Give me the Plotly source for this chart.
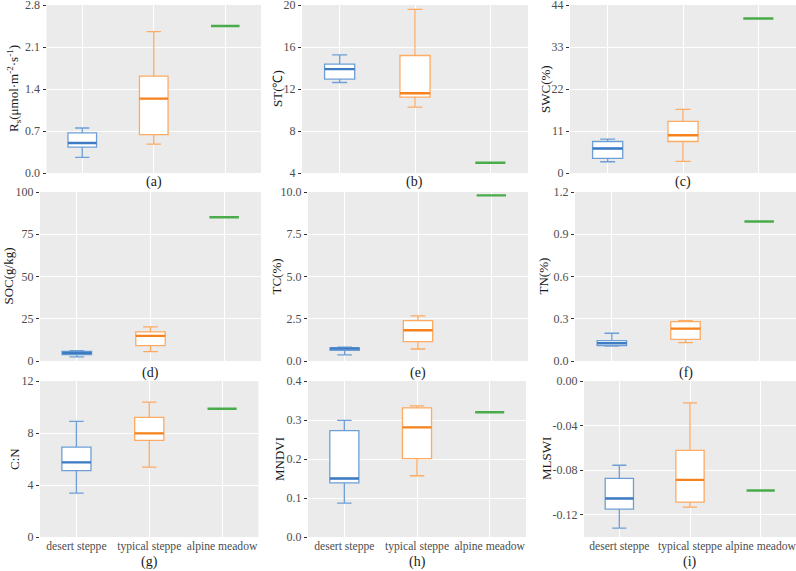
import plotly.graph_objects as go

# ---------------- data ----------------
categories = ["desert steppe", "typical steppe", "alpine meadow"]
panel_labels = ["(a)", "(b)", "(c)", "(d)", "(e)", "(f)", "(g)", "(h)", "(i)"]
y_titles = ["R<sub>s</sub>(μmol·m<sup>-2</sup>·s<sup>-1</sup>)", "ST(℃)", "SWC(%)",
            "SOC(g/kg)", "TC(%)", "TN(%)", "C:N", "MNDVI", "MLSWI"]

# box stats: [lower whisker, q1, median, q3, upper whisker]; alpine meadow single value
rs_desert = [0.26, 0.43, 0.50, 0.67, 0.75]
rs_typical = [0.48, 0.64, 1.24, 1.615, 2.355]
rs_alpine = 2.45

st_desert = [12.62, 12.94, 13.89, 14.36, 15.25]
st_typical = [10.27, 11.22, 11.6, 15.19, 19.59]
st_alpine = 4.98

swc_desert = [2.95, 3.82, 6.42, 8.25, 8.85]
swc_typical = [3.04, 8.25, 9.9, 13.54, 16.67]
swc_alpine = 40.45

soc_desert = [2.4, 3.76, 4.75, 5.74, 6.1]
soc_typical = [5.5, 9.1, 14.85, 17.2, 20.2]
soc_alpine = 85.1

tc_desert = [0.36, 0.63, 0.73, 0.79, 0.82]
tc_typical = [0.71, 1.15, 1.82, 2.39, 2.67]
tc_alpine = 9.8

tn_desert = [0.105, 0.109, 0.126, 0.145, 0.197]
tn_typical = [0.13, 0.154, 0.23, 0.28, 0.287]
tn_alpine = 0.991

cn_desert = [3.38, 5.1, 5.74, 6.92, 8.9]
cn_typical = [5.38, 7.44, 7.97, 9.2, 10.38]
cn_alpine = 9.87

mndvi_desert = [0.087, 0.139, 0.15, 0.273, 0.299]
mndvi_typical = [0.157, 0.201, 0.281, 0.331, 0.336]
mndvi_alpine = 0.32

mlswi_desert = [-0.132, -0.115, -0.1054, -0.0873, -0.0756]
mlswi_typical = [-0.1132, -0.1087, -0.0887, -0.0622, -0.0197]
mlswi_alpine = -0.0983

# y axis ranges and tick labels
y_ranges = [[0, 2.8], [4, 20], [0, 44], [0, 100], [0, 10], [0, 1.2], [0, 12], [0, 0.4], [-0.14, 0]]
tick_vals = [[0, 0.7, 1.4, 2.1, 2.8], [4, 8, 12, 16, 20], [0, 11, 22, 33, 44],
             [0, 25, 50, 75, 100], [0, 2.5, 5, 7.5, 10], [0, 0.3, 0.6, 0.9, 1.2],
             [0, 4, 8, 12], [0, 0.1, 0.2, 0.3, 0.4], [-0.12, -0.08, -0.04, 0]]
tick_text = [["0.0", "0.7", "1.4", "2.1", "2.8"], ["4", "8", "12", "16", "20"],
             ["0", "11", "22", "33", "44"], ["0", "25", "50", "75", "100"],
             ["0.0", "2.5", "5.0", "7.5", "10.0"], ["0.0", "0.3", "0.6", "0.9", "1.2"],
             ["0", "4", "8", "12"], ["0.0", "0.1", "0.2", "0.3", "0.4"],
             ["-0.12", "-0.08", "-0.04", "0.00"]]

panels = [
    (rs_desert, rs_typical, rs_alpine), (st_desert, st_typical, st_alpine),
    (swc_desert, swc_typical, swc_alpine), (soc_desert, soc_typical, soc_alpine),
    (tc_desert, tc_typical, tc_alpine), (tn_desert, tn_typical, tn_alpine),
    (cn_desert, cn_typical, cn_alpine), (mndvi_desert, mndvi_typical, mndvi_alpine),
    (mlswi_desert, mlswi_typical, mlswi_alpine),
]

# ---------------- layout geometry (pixels) ----------------
W, H = 796, 571
x_px = [(46.5, 261), (302, 528), (570, 796),
        (40, 261), (308, 528), (575, 796),
        (40, 258.5), (308, 526), (584, 796)]
row_px = [(5, 173), (192, 361), (381, 537)]
ytitle_x = [14, 277, 545, 8, 276, 543, 14, 279, 546]
label_y = [182, 373, 562]

box_cols = ["#6d9fd6", "#fdab62", "#4aab4a"]
med_cols = ["#3d7bc3", "#f5821f", "#4aab4a"]
FONT = "Liberation Serif"

fig = go.Figure()
for i, (d, t, a) in enumerate(panels):
    xa = "x" if i == 0 else f"x{i+1}"
    ya = "y" if i == 0 else f"y{i+1}"
    for j, stats in enumerate([d, t]):
        fig.add_trace(go.Box(
            x=[categories[j]], lowerfence=[stats[0]], q1=[stats[1]], median=[stats[2]],
            q3=[stats[3]], upperfence=[stats[4]], width=0.4, fillcolor="white",
            line=dict(color=box_cols[j], width=1.3), boxpoints=False,
            hoverinfo="skip", showlegend=False, xaxis=xa, yaxis=ya))
        m = stats[2]
        fig.add_trace(go.Box(
            x=[categories[j]], lowerfence=[m], q1=[m], median=[m], q3=[m], upperfence=[m],
            width=0.4, fillcolor="rgba(0,0,0,0)", line=dict(color=med_cols[j], width=2.4),
            boxpoints=False, hoverinfo="skip", showlegend=False, xaxis=xa, yaxis=ya))
    fig.add_trace(go.Box(
        x=[categories[2]], lowerfence=[a], q1=[a], median=[a], q3=[a], upperfence=[a],
        width=0.4, fillcolor="rgba(0,0,0,0)", line=dict(color=med_cols[2], width=2.4),
        boxpoints=False, hoverinfo="skip", showlegend=False, xaxis=xa, yaxis=ya))

layout = dict(
    width=W, height=H, margin=dict(l=0, r=0, t=0, b=0, pad=0),
    paper_bgcolor="white", plot_bgcolor="#EBEBEB", boxmode="overlay",
    font=dict(family=FONT, size=12, color="#4D4D4D"), showlegend=False,
)
annotations = []
for i in range(9):
    r = i // 3
    x0, x1 = x_px[i]
    y0, y1 = row_px[r]
    suffix = "" if i == 0 else str(i + 1)
    layout["xaxis" + suffix] = dict(
        domain=[x0 / W, x1 / W], anchor="y" + suffix, type="category",
        categoryorder="array", categoryarray=categories, range=[-0.5, 2.5],
        showgrid=True, gridcolor="white", gridwidth=1.2, zeroline=False, showline=False,
        showticklabels=(r == 2), ticks="", tickangle=0, automargin=False,
        ticklabeloverflow="allow",
        tickfont=dict(family=FONT, size=11.6, color="#4D4D4D"), fixedrange=True)
    layout["yaxis" + suffix] = dict(
        domain=[1 - y1 / H, 1 - y0 / H], anchor="x" + suffix, range=y_ranges[i],
        tickvals=tick_vals[i], ticktext=tick_text[i], showgrid=True, gridcolor="white",
        gridwidth=1.2, zeroline=False, showline=False, ticks="outside", ticklen=3,
        tickcolor="#333333", tickwidth=1, automargin=False, ticklabeloverflow="allow",
        tickfont=dict(family=FONT, size=12, color="#4D4D4D"), fixedrange=True)
    annotations.append(dict(
        text=y_titles[i], x=ytitle_x[i] / W, y=1 - (y0 + y1) / 2 / H, xref="paper",
        yref="paper", textangle=-90, showarrow=False, xanchor="center", yanchor="middle",
        font=dict(family=FONT, size=13, color="#1a1a1a")))
    annotations.append(dict(
        text=panel_labels[i], x=(x0 + x1) / 2 / W, y=1 - label_y[r] / H, xref="paper",
        yref="paper", showarrow=False, xanchor="center", yanchor="middle",
        font=dict(family=FONT, size=14, color="#1a1a1a")))
layout["annotations"] = annotations
fig.update_layout(**layout)
fig.write_html("out.html", config={"displayModeBar": False},
               post_script="document.body.style.margin='0';document.body.style.overflow='hidden';")
